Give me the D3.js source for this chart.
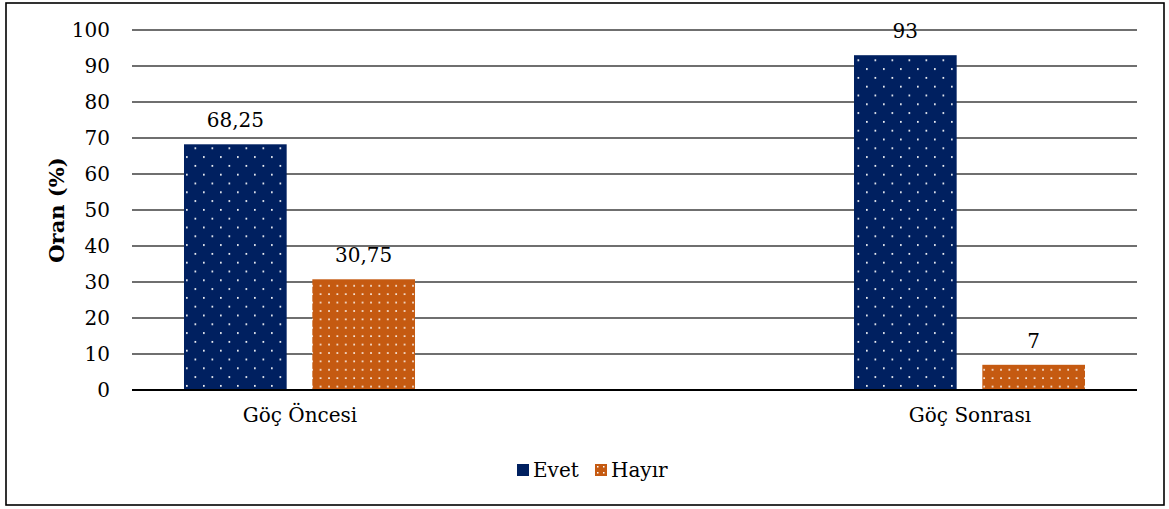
<!DOCTYPE html>
<html>
<head>
<meta charset="utf-8">
<script src="https://cdn.jsdelivr.net/npm/d3@7"></script>
<style>
  body { margin: 0; background: #fff; }
</style>
</head>
<body>
<div id="viz"></div>
<script>
// data
var categories = ['Göç Öncesi', 'Göç Sonrası'];
var seriesNames = ['Evet', 'Hayır'];
var evetValues = [68.25, 93];
var hayirValues = [30.75, 7];
var yTicks = [0, 10, 20, 30, 40, 50, 60, 70, 80, 90, 100];

var width = 1169;
var height = 509;
var fontFam = '"DejaVu Serif", serif';
var fs = 20;

var margin = { top: 30, left: 132, right: 32, bottom: 119 };
var innerWidth = width - margin.left - margin.right;
var innerHeight = height - margin.top - margin.bottom;

var colors = { 'Evet': '#002060', 'Hayır': '#C55A11' };

var svg = d3.select('#viz')
    .append('svg')
    .attr('width', width)
    .attr('height', height)
    .style('font-family', fontFam);

// patterns (white dots)
var defs = svg.append('defs');

var pNavy = defs.append('pattern')
    .attr('id', 'pat-Evet')
    .attr('patternUnits', 'userSpaceOnUse')
    .attr('width', 17).attr('height', 17.6);
pNavy.append('rect').attr('width', 17).attr('height', 17.6).attr('fill', colors['Evet']);
pNavy.append('rect').attr('x', 3).attr('y', 3).attr('width', 1.7).attr('height', 1.7).attr('fill', '#fff');
pNavy.append('rect').attr('x', 11.5).attr('y', 11.8).attr('width', 1.7).attr('height', 1.7).attr('fill', '#fff');

var pOr = defs.append('pattern')
    .attr('id', 'pat-Hayır')
    .attr('patternUnits', 'userSpaceOnUse')
    .attr('width', 8.4).attr('height', 8.4);
pOr.append('rect').attr('width', 8.4).attr('height', 8.4).attr('fill', colors['Hayır']);
pOr.append('rect').attr('x', 3).attr('y', 3).attr('width', 1.6).attr('height', 1.6).attr('fill', '#fff');

var pOrSmall = defs.append('pattern')
    .attr('id', 'pat-leg-Hayır')
    .attr('patternUnits', 'userSpaceOnUse')
    .attr('width', 6).attr('height', 6);
pOrSmall.append('rect').attr('width', 6).attr('height', 6).attr('fill', colors['Hayır']);
pOrSmall.append('rect').attr('x', 2).attr('y', 2).attr('width', 1.5).attr('height', 1.5).attr('fill', '#fff');

// outer frame
svg.append('rect')
    .attr('x', 6).attr('y', 3)
    .attr('width', 1158).attr('height', 502)
    .attr('fill', 'none')
    .attr('stroke', '#000')
    .attr('stroke-width', 1.6);

var g = svg.append('g')
    .attr('transform', 'translate(' + margin.left + ',' + margin.top + ')');

var yScale = d3.scaleLinear()
    .domain([0, 100])
    .range([innerHeight, 0]);

var xScale = d3.scalePoint()
    .domain(categories)
    .range([0, innerWidth])
    .padding(0.25);

var x1 = d3.scaleBand()
    .domain(seriesNames)
    .range([-115.5, 115.5])
    .paddingInner(0.2);

// gridlines
g.append('g')
    .selectAll('line')
    .data(yTicks.filter(d => d > 0))
    .enter()
    .append('line')
    .attr('x1', 0).attr('x2', innerWidth)
    .attr('y1', d => yScale(d)).attr('y2', d => yScale(d))
    .attr('stroke', '#3f3f3f')
    .attr('stroke-width', 1.4);

// y axis labels
var yAxis = d3.axisLeft(yScale).tickValues(yTicks).tickSize(0).tickPadding(22);
var yAx = g.append('g').attr('class', 'y-axis').call(yAxis);
yAx.attr('font-family', null).attr('font-size', null);
yAx.select('.domain').remove();
yAx.selectAll('text').attr('fill', '#000').style('font-size', fs + 'px');

// bars
var rows = [];
categories.forEach(function (c, i) {
    rows.push({ cat: c, series: 'Evet', value: evetValues[i] });
    rows.push({ cat: c, series: 'Hayır', value: hayirValues[i] });
});

g.selectAll('.bar')
    .data(rows)
    .enter()
    .append('rect')
    .attr('class', 'bar')
    .attr('x', d => xScale(d.cat) + x1(d.series))
    .attr('y', d => yScale(d.value))
    .attr('width', x1.bandwidth())
    .attr('height', d => innerHeight - yScale(d.value))
    .attr('fill', d => 'url(#pat-' + d.series + ')');

// value labels
var fmt = v => String(v).replace('.', ',');
g.selectAll('.val')
    .data(rows)
    .enter()
    .append('text')
    .attr('class', 'val')
    .attr('x', d => xScale(d.cat) + x1(d.series) + x1.bandwidth() / 2)
    .attr('y', d => yScale(d.value) - 17)
    .attr('text-anchor', 'middle')
    .style('font-size', fs + 'px')
    .text(d => fmt(d.value));

// zero line
g.append('line')
    .attr('x1', 0).attr('x2', innerWidth)
    .attr('y1', yScale(0)).attr('y2', yScale(0))
    .attr('stroke', '#000')
    .attr('stroke-width', 2.2);

// category labels
var xAxis = d3.axisBottom(xScale).tickSize(0).tickPadding(18);
var xAx = g.append('g')
    .attr('transform', 'translate(0,' + innerHeight + ')')
    .call(xAxis);
xAx.attr('font-family', null).attr('font-size', null);
xAx.select('.domain').remove();
xAx.selectAll('text').attr('fill', '#000').style('font-size', fs + 'px');

// y axis title
g.append('text')
    .attr('transform', 'translate(-75,' + innerHeight / 2 + ') rotate(-90)')
    .attr('text-anchor', 'middle')
    .attr('dy', '0.35em')
    .style('font-size', (fs + 1) + 'px')
    .style('font-weight', 'bold')
    .text('Oran (%)');

// legend
var legend = svg.append('g').attr('transform', 'translate(517,470)');
var legX = [0, 78];
seriesNames.forEach(function (s, i) {
    var item = legend.append('g').attr('transform', 'translate(' + legX[i] + ',0)');
    item.append('rect')
        .attr('x', 0).attr('y', -6)
        .attr('width', 12).attr('height', 12)
        .attr('fill', s === 'Evet' ? colors[s] : 'url(#pat-leg-Hayır)');
    item.append('text')
        .attr('x', 16).attr('y', 0)
        .attr('dy', '0.35em')
        .style('font-size', fs + 'px')
        .text(s);
});
</script>
</body>
</html>
